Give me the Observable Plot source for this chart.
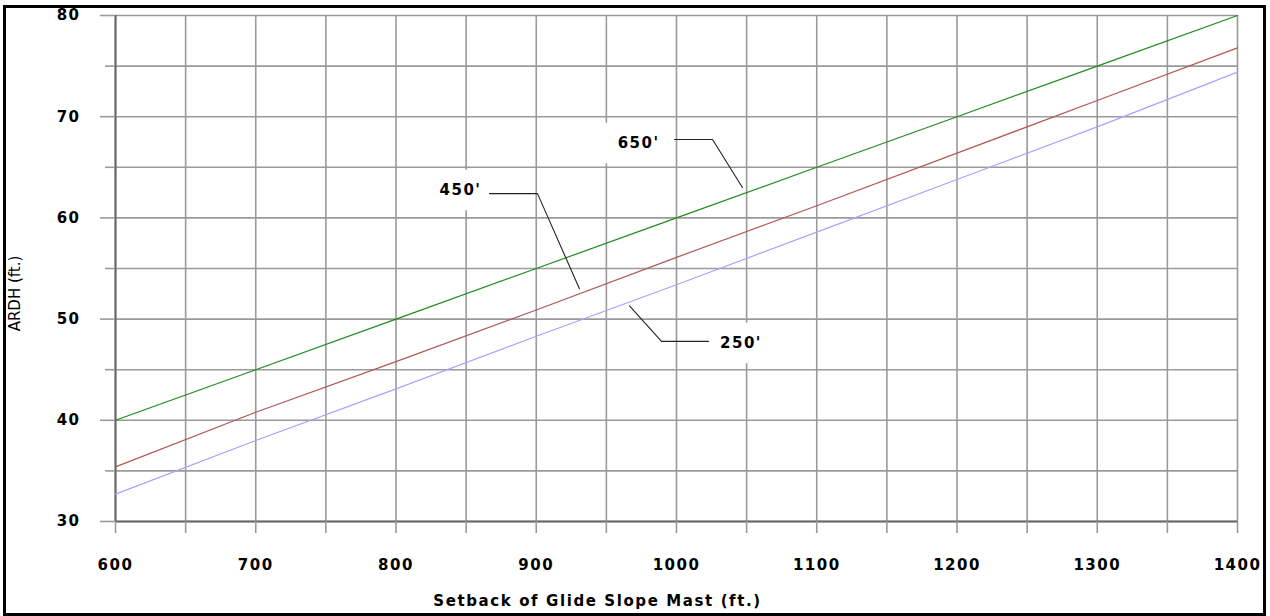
<!DOCTYPE html>
<html>
<head>
<meta charset="utf-8">
<script src="https://cdn.jsdelivr.net/npm/d3@7"></script>
<script src="https://cdn.jsdelivr.net/npm/@observablehq/plot@0.6"></script>
<style>
  html, body { margin: 0; padding: 0; background: #fff; }
  #wrap { position: relative; width: 1270px; height: 616px; overflow: hidden; }
  #frame { position: absolute; left: 3px; top: 5px; width: 1257px; height: 605px; border: 3px solid #000; pointer-events: none; }
  svg .num text, svg g.num text { letter-spacing: 1.5px; }
  svg .ttl text { letter-spacing: 1.6px; }
  svg .ylab text { font-size: 15px; }
</style>
</head>
<body>
<div id="wrap"><div id="frame"></div></div>
<script>
// ---- data ----
const setback = [600, 700, 800, 900, 1000, 1100, 1200, 1300, 1400];
const ardh650 = [40, 45, 50, 55, 60, 65, 70, 75, 80];
const ardh450 = [35.4, 40.8, 45.8, 50.9, 56.1, 61.2, 66.4, 71.6, 76.8];
const ardh250 = [32.7, 38.0, 43.1, 48.3, 53.4, 58.6, 63.8, 69.0, 74.4];
const seriesNames = ["650'", "450'", "250'"];
const seriesColors = ["#1e8c1e", "#b05858", "#a4a4ff"];

const xLabelTicks = [600, 700, 800, 900, 1000, 1100, 1200, 1300, 1400];
const xGridTicks = [600, 650, 700, 750, 800, 850, 900, 950, 1000, 1050, 1100, 1150, 1200, 1250, 1300, 1350, 1400];
const yLabelTicks = [30, 40, 50, 60, 70, 80];
const yMinorTicks = [35, 45, 55, 65, 75];

// annotation label anchors (data units) and leader polylines
const labelX = [973, 846, 1046];
const labelY = [67.35, 62.7, 47.6];
const leaderX = [[998.6, 1025.7, 1047], [866.7, 900.9, 930.8], [1022.8, 989.3, 966.5]];
const leaderY = [[67.75, 67.75, 63.0], [62.4, 62.4, 53.0], [47.8, 47.8, 51.3]];

const xTitle = "Setback of Glide Slope Mast (ft.)";
const yTitle = "ARDH (ft.)";

// ---- build tables ----
const seriesValues = [ardh650, ardh450, ardh250];
const lineData = seriesNames.flatMap((name, i) =>
  setback.map((x, j) => ({series: name, x, y: seriesValues[i][j]})));
const labels = seriesNames.map((name, i) => ({name, x: labelX[i], y: labelY[i]}));
const leaders = seriesNames.flatMap((name, i) =>
  leaderX[i].map((x, j) => ({series: name, x, y: leaderY[i][j]})));

const gridColor = "#9a9a9a";
const font = "'DejaVu Sans', sans-serif";

const chart = Plot.plot({
  width: 1270,
  height: 616,
  marginLeft: 115,
  marginRight: 33,
  marginTop: 15,
  marginBottom: 95,
  style: {fontFamily: font, background: "transparent", overflow: "visible"},
  x: {domain: [600, 1400]},
  y: {domain: [30, 80]},
  color: {domain: seriesNames, range: seriesColors},
  marks: [
    Plot.gridX(xGridTicks, {stroke: gridColor, strokeOpacity: 1, strokeWidth: 1.6}),
    Plot.gridY([...yLabelTicks, ...yMinorTicks], {stroke: gridColor, strokeOpacity: 1, strokeWidth: 1.6}),
    Plot.ruleX([600], {stroke: "#666", strokeWidth: 2}),
    Plot.ruleY([30], {stroke: "#666", strokeWidth: 2}),
    // tick marks
    Plot.axisX({ticks: xGridTicks, tickSize: 12, tickFormat: () => "", label: null, stroke: gridColor, strokeWidth: 1.6}),
    Plot.axisY({ticks: yLabelTicks, tickSize: 15, tickFormat: () => "", label: null, stroke: gridColor, strokeWidth: 1.6}),
    Plot.axisY({ticks: yMinorTicks, tickSize: 10, tickFormat: () => "", label: null, stroke: gridColor, strokeWidth: 1.6}),
    // tick labels
    Plot.axisX({ticks: xLabelTicks, tickSize: 0, tickPadding: 38, tickFormat: d => String(d), label: null, fontSize: 15, fontWeight: "bold", fill: "#000", className: "num"}),
    Plot.axisY({ticks: yLabelTicks, tickSize: 0, tickPadding: 35, tickFormat: d => String(d), label: null, fontSize: 15, fontWeight: "bold", fill: "#000", className: "num"}),
    // data lines
    Plot.line(lineData, {x: "x", y: "y", z: "series", stroke: "series", strokeWidth: 1.2}),
    // annotation boxes, leaders and labels
    Plot.rect(labels, {x1: d => d.x - 25, x2: d => d.x + 25, y1: d => d.y - 2, y2: d => d.y + 2, fill: "#fff"}),
    Plot.line(leaders, {x: "x", y: "y", z: "series", stroke: "#222", strokeWidth: 1.1}),
    Plot.text(labels, {x: "x", y: "y", text: "name", fontSize: 15, fontWeight: "bold", fill: "#000", className: "num"}),
    // axis titles
    Plot.text([xTitle], {frameAnchor: "bottom", textAnchor: "middle", dx: -79, dy: 84, fontSize: 15, fontWeight: "bold", fill: "#000", className: "ttl"}),
    Plot.text([yTitle], {frameAnchor: "left", textAnchor: "middle", dx: -100, dy: 25, rotate: -90, fontSize: "15px", fill: "#000", className: "ylab"})
  ]
});
document.getElementById("wrap").prepend(chart);
</script>
</body>
</html>
